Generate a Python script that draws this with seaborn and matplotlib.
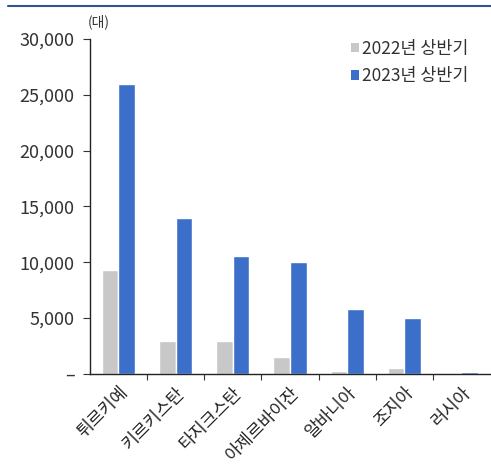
import matplotlib
matplotlib.use("Agg")
import matplotlib.pyplot as plt
import seaborn as sns
import pandas as pd
from matplotlib.patches import Patch
from matplotlib.lines import Line2D
from matplotlib.ticker import FuncFormatter

countries = ["튀르키예", "키르키스탄", "타지크스탄", "아제르바이잔", "알바니아", "조지아", "러시아"]
series_names = ["2022년 상반기", "2023년 상반기"]
values_2022 = [9300, 2900, 2900, 1550, 300, 500, 50]
values_2023 = [26000, 13950, 10600, 10000, 5850, 5000, 200]
y_ticks = [0, 5000, 10000, 15000, 20000, 25000, 30000]
unit_label = "(대)"

colors = ["#C8C8C8", "#3C6FCA"]

sns.set_theme(style="white")
plt.rcParams['font.family'] = ['Noto Sans CJK KR', 'DejaVu Sans']

df = pd.DataFrame({
    "country": countries * 2,
    "series": [series_names[0]] * len(countries) + [series_names[1]] * len(countries),
    "value": values_2022 + values_2023,
})

fig = plt.figure(figsize=(4.91, 4.65), dpi=100)
ax = fig.add_axes([0.183, 0.196, 0.815, 0.72])

sns.barplot(data=df, x="country", y="value", hue="series", order=countries,
            hue_order=series_names, palette=colors, width=0.58, gap=0,
            saturation=1, ax=ax, legend=False, errorbar=None)

ax.set_ylim(0, 30000)
ax.set_xlim(-0.5, len(countries) - 0.5)
ax.set_yticks(y_ticks)
ax.yaxis.set_major_formatter(FuncFormatter(lambda v, p: "–" if v == 0 else f"{int(v):,}"))
ax.set_xlabel("")
ax.set_ylabel("")

ax.set_xticks(range(len(countries)))
ax.set_xticklabels(countries, rotation=45, ha="right", rotation_mode="anchor", fontsize=12.5, color="#222222")
ax.set_xticks([i + 0.5 for i in range(len(countries) - 1)], minor=True)
ax.tick_params(axis="x", which="major", length=0, pad=7)
ax.tick_params(axis="x", which="minor", length=4, width=0.8, direction="out", color="#333333", bottom=True)
ax.tick_params(axis="y", which="major", length=5, width=0.8, direction="out", color="#333333",
               labelsize=13, labelcolor="#333333", left=True, pad=6)

for s in ["top", "right"]:
    ax.spines[s].set_visible(False)
for s in ["left", "bottom"]:
    ax.spines[s].set_color("#222222")
    ax.spines[s].set_linewidth(1.0)

ax.text(-0.005, 1.03, unit_label, transform=ax.transAxes, fontsize=10, color="#333333",
        ha="left", va="bottom")

handles = [Patch(facecolor=c, edgecolor="none") for c in colors]
leg = ax.legend(handles, series_names, loc="upper right", bbox_to_anchor=(0.985, 1.045), frameon=False,
                fontsize=12.5, handlelength=0.45, handleheight=0.45, handletextpad=0.2, labelspacing=0.55)
for t in leg.get_texts():
    t.set_color("#333333")

fig.add_artist(Line2D([8 / 491, 1.0], [1 - 6.5 / 465, 1 - 6.5 / 465], color="#2F5597", linewidth=1.5,
                      transform=fig.transFigure))

fig.savefig("out.png", dpi=100)
